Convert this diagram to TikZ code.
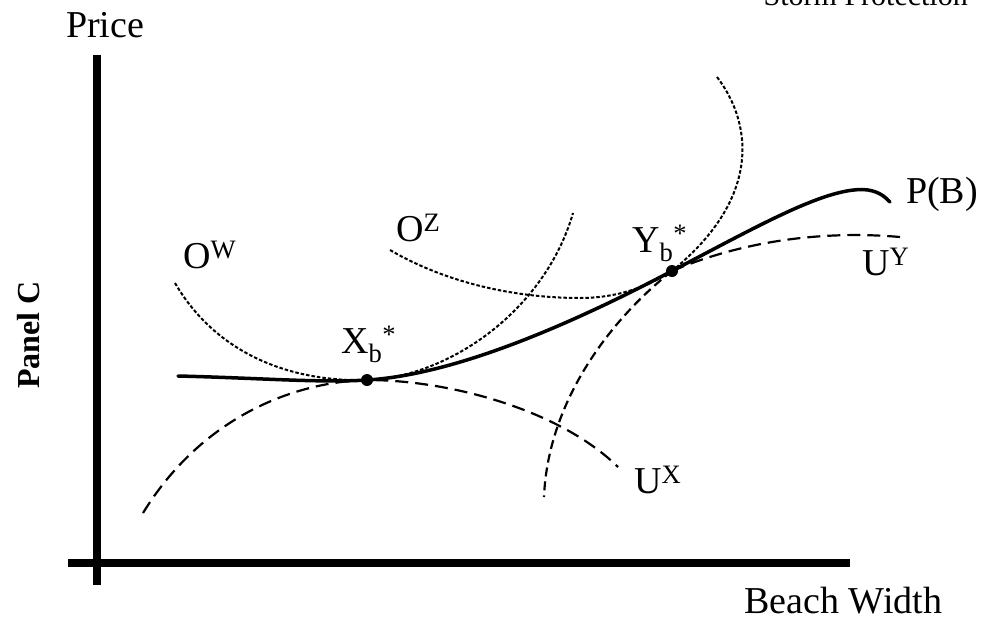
\documentclass[tikz,border=0pt]{standalone}
\usepackage{fontspec}
\setmainfont{Liberation Serif}
\begin{document}
\begin{tikzpicture}[x=1pt,y=-1pt,
  lbl/.style={font=\fontsize{38}{40}\selectfont, inner sep=0pt, anchor=base west},
  axisline/.style={line width=8pt},
  pcurve/.style={line width=3.5pt, line cap=round},
  ocurve/.style={line width=2pt, dash pattern=on 3.5pt off 2pt},
  ucurve/.style={line width=2.2pt, dash pattern=on 13pt off 7pt},
  mcurve/.style={line width=2.2pt, dash pattern=on 9pt off 5pt},
  eqdot/.style={circle, fill=black, inner sep=0pt, minimum size=12pt}]
\useasboundingbox (0,0) rectangle (986,622);
% axes
\coordinate (ytop) at (97,55);
\coordinate (ybot) at (97,585);
\coordinate (xl) at (68,563);
\coordinate (xr) at (850,563);
\draw[axisline] (ytop) -- (ybot);
\draw[axisline] (xl) -- (xr);
% axis labels
\node[lbl] (price) at (66,37) {Price};
\node[lbl] (bw) at (744,613) {Beach Width};
\node[font=\fontsize{32}{34}\selectfont\bfseries, rotate=90, inner sep=0pt] (panel) at (29,335) {Panel C};
\node[font=\fontsize{30}{32}\selectfont, inner sep=0pt, anchor=base east] (storm) at (968,5) {Storm Protection};
% equilibrium points
\node[eqdot] (X) at (367,380) {};
\node[eqdot] (Y) at (672,271) {};
% offer curves (dotted)
\draw[ocurve] (175,283) .. controls (220,360) and (300,382) .. (X.center)
  .. controls (450,377) and (545,310) .. (573,213);
\draw[ocurve] (390,250) .. controls (450,285) and (520,298) .. (580,298)
  .. controls (620,298) and (650,285) .. (Y.center);
\draw[ocurve] (717,77) .. controls (750,120) and (765,195) .. (Y.center);
\draw[mcurve] (Y.center) .. controls (612,318) and (548,400) .. (544,497);
% bid curves (dashed)
\draw[ucurve] (143,513) .. controls (200,420) and (290,382) .. (X.center)
  .. controls (450,380) and (560,410) .. (618,467);
\draw[ucurve] (Y.center) .. controls (740,242) and (820,230) .. (900,237);
% price function
\draw[pcurve] (178,376) .. controls (260,378) and (320,383) .. (X.center)
  .. controls (450,375) and (560,330) .. (Y.center)
  .. controls (760,225) and (830,185) .. (868,190)
  .. controls (880,192) and (885,197) .. (890,202);
% labels
\node[lbl] (lOW) at (183,268) {O\textsuperscript{W}};
\node[lbl] (lOZ) at (396,241) {O\textsuperscript{Z}};
\node[lbl] (lX) at (341,353) {X\textsubscript{b}\textsuperscript{*}};
\node[lbl] (lY) at (632,252) {Y\textsubscript{b}\textsuperscript{*}};
\node[lbl] (lP) at (906,203) {P(B)};
\node[lbl] (lUY) at (862,275) {U\textsuperscript{Y}};
\node[lbl] (lUX) at (634,493) {U\textsuperscript{X}};
\end{tikzpicture}
\end{document}
